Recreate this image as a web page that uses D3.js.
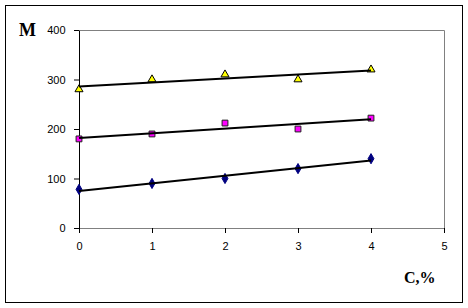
<!DOCTYPE html>
<html>
<head>
<meta charset="utf-8">
<script src="https://cdn.jsdelivr.net/npm/d3@7"></script>
<style>
  body { margin: 0; background: #fff; }
  svg text { font-family: Arial, "Liberation Sans", sans-serif; }
</style>
</head>
<body>
<div id="chart"></div>
<script>
var svgWidth = 468;
var svgHeight = 308;

// data
var concentration = [0, 1, 2, 3, 4];
var seriesTriangle = [280, 300, 310, 300, 320];
var seriesSquare = [180, 190, 212, 200, 222];
var seriesDiamond = [78, 90, 100, 120, 140];
var xTicks = [0, 1, 2, 3, 4, 5];
var yTicks = [0, 100, 200, 300, 400];

var margin = { top: 30, right: 24, bottom: 80, left: 79 };
var width = 444 - margin.left;
var height = 228 - margin.top;

var svg = d3.select("#chart")
  .append("svg")
  .attr("width", svgWidth)
  .attr("height", svgHeight);

// outer frame
svg.append("rect")
  .attr("x", 5.5).attr("y", 5.5)
  .attr("width", 457).attr("height", 297)
  .attr("fill", "none").attr("stroke", "#000").attr("stroke-width", 1);

var chartGroup = svg.append("g")
  .attr("transform", `translate(${margin.left}, ${margin.top})`);

var xScale = d3.scaleLinear().domain([0, 5]).range([0, width]);
var yScale = d3.scaleLinear().domain([0, 400]).range([height, 0]);

// plot area border (grey top/right)
chartGroup.append("path")
  .attr("d", `M0.5,0.5H${width + 0.5}V${height + 0.5}`)
  .attr("fill", "none").attr("stroke", "#808080");

var xAxis = chartGroup.append("g")
  .attr("transform", `translate(0, ${height})`)
  .call(d3.axisBottom(xScale).tickValues(xTicks).tickSize(5).tickSizeOuter(0).tickFormat(d3.format("d")));
xAxis.select(".domain").attr("stroke", "#808080");
xAxis.selectAll(".tick line").attr("stroke", "#000");
xAxis.selectAll("text").attr("font-size", 11).attr("dy", "1.3em").attr("fill", "#000");

var yAxis = chartGroup.append("g")
  .call(d3.axisLeft(yScale).tickValues(yTicks).tickSize(5).tickSizeOuter(0));
yAxis.select(".domain").attr("stroke", "#000");
yAxis.selectAll("text").attr("font-size", 11).attr("dx", "-0.5em").attr("fill", "#000");

function drawMarkers(ys, symbol, size, fill, stroke) {
  chartGroup.selectAll(null)
    .data(ys)
    .enter()
    .append("path")
    .attr("transform", (d, i) => `translate(${xScale(concentration[i])}, ${yScale(d)})`)
    .attr("d", d3.symbol().type(symbol).size(size))
    .attr("fill", fill)
    .attr("stroke", stroke)
    .attr("stroke-width", 1);
}

drawMarkers(seriesDiamond, d3.symbolDiamond, 30, "#000080", "#000080");
drawMarkers(seriesSquare, d3.symbolSquare, 34, "#ff00ff", "#202020");
drawMarkers(seriesTriangle, d3.symbolTriangle, 28, "#ffff00", "#000");

// least squares trend line for a series
function trend(ys) {
  var mx = d3.mean(concentration), my = d3.mean(ys);
  var num = d3.sum(concentration, (x, i) => (x - mx) * (ys[i] - my));
  var den = d3.sum(concentration, x => (x - mx) * (x - mx));
  var b = num / den;
  var a = my - b * mx;
  return [0, 4].map(x => [x, a + b * x]);
}

var line = d3.line()
  .x(d => xScale(d[0]))
  .y(d => yScale(d[1]));

[seriesTriangle, seriesSquare, seriesDiamond].forEach(function(ys) {
  chartGroup.append("path")
    .attr("d", line(trend(ys)))
    .attr("fill", "none")
    .attr("stroke", "#000")
    .attr("stroke-width", 2);
});

// axis titles
svg.append("text")
  .attr("x", 19).attr("y", 36)
  .style("font-family", "'Times New Roman', 'Liberation Serif', serif")
  .attr("font-weight", "bold").attr("font-size", 18)
  .text("M");

svg.append("text")
  .attr("x", 404).attr("y", 283)
  .style("font-family", "'Times New Roman', 'Liberation Serif', serif")
  .attr("font-weight", "bold").attr("font-size", 16)
  .text("C,%");
</script>
</body>
</html>
